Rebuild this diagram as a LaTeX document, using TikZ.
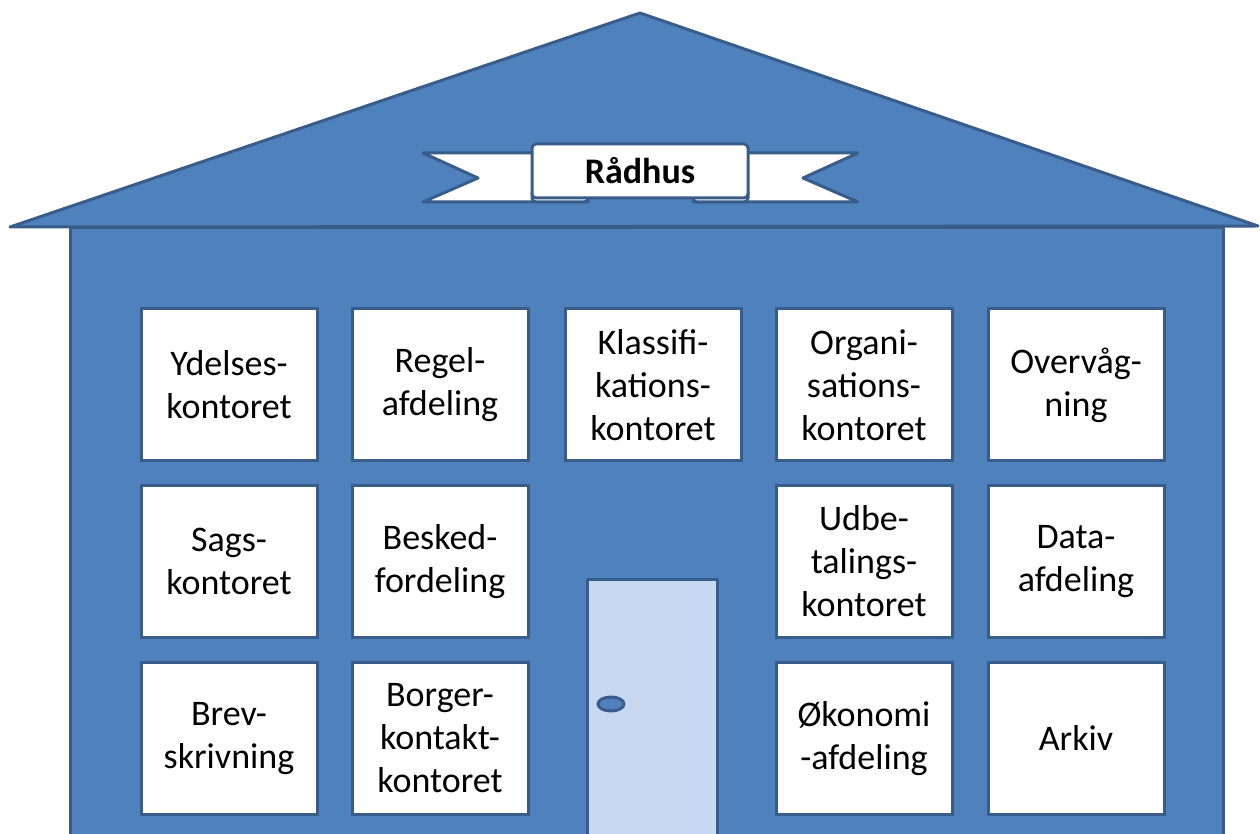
\documentclass[tikz,border=0pt]{standalone}
\usepackage{fontspec}
\setmainfont{Carlito}
\usetikzlibrary{shapes.geometric}
\definecolor{wall}{HTML}{4F81BD}
\definecolor{edge}{HTML}{385D8A}
\definecolor{doorfill}{HTML}{C6D9F0}
\begin{document}
\begin{tikzpicture}[x=0.5pt,y=-0.5pt,
  room/.style={draw=edge,line width=1.5pt,fill=white,minimum width=88pt,minimum height=76pt,
    align=center,inner sep=0pt,font=\fontsize{18}{21.5}\selectfont},
  outline/.style={draw=edge,line width=1.5pt,line join=round}]
\useasboundingbox (0,0) rectangle (1260,834);
\clip (0,0) rectangle (1260,834);
% walls
\path[outline,fill=wall] (70,228) rectangle (1223,850);
% roof
\path[outline,fill=wall] (10,227) -- (640,13) -- (1258,226) -- cycle;
% banner tails
\path[outline,fill=white] (588,153) -- (423,153) -- (478,178) -- (423,202) -- (588,202) -- cycle;
\path[outline,fill=white] (693,153) -- (858,153) -- (803,178) -- (858,202) -- (693,202) -- cycle;
\path[outline,fill=white,rounded corners=2pt] (532,190) rectangle (588,202);
\path[outline,fill=white,rounded corners=2pt] (693,190) rectangle (748,202);
\node[outline,fill=white,rounded corners=2pt,minimum width=108pt,minimum height=27pt,inner sep=0pt,
  font=\fontsize{18}{21.5}\selectfont\bfseries] (title) at (640,171) {Rådhus};
% door
\path[outline,fill=doorfill] (587,579) rectangle (717,850);
\node[outline,fill=wall,ellipse,minimum width=13pt,minimum height=7pt,inner sep=0pt] (knob) at (611,704) {};
% rooms
\node[room] (ydelse) at (229,385) {Ydelses-\\kontoret};
\node[room] (regel) at (440,385) {Regel-\\afdeling};
\node[room] (klass) at (653,385) {Klassifi-\\kations-\\kontoret};
\node[room] (organ) at (864,385) {Organi-\\sations-\\kontoret};
\node[room] (overv) at (1076,385) {Overvåg-\\ning};
\node[room] (sags) at (229,561.5) {Sags-\\kontoret};
\node[room] (besked) at (440,561.5) {Besked-\\fordeling};
\node[room] (udbet) at (864,561.5) {Udbe-\\talings-\\kontoret};
\node[room] (data) at (1076,561.5) {Data-\\afdeling};
\node[room] (brev) at (229,738.5) {Brev-\\skrivning};
\node[room] (borger) at (440,738.5) {Borger-\\kontakt-\\kontoret};
\node[room] (okonomi) at (864,738.5) {Økonomi\\-afdeling};
\node[room] (arkiv) at (1076,738.5) {Arkiv};
\end{tikzpicture}
\end{document}
